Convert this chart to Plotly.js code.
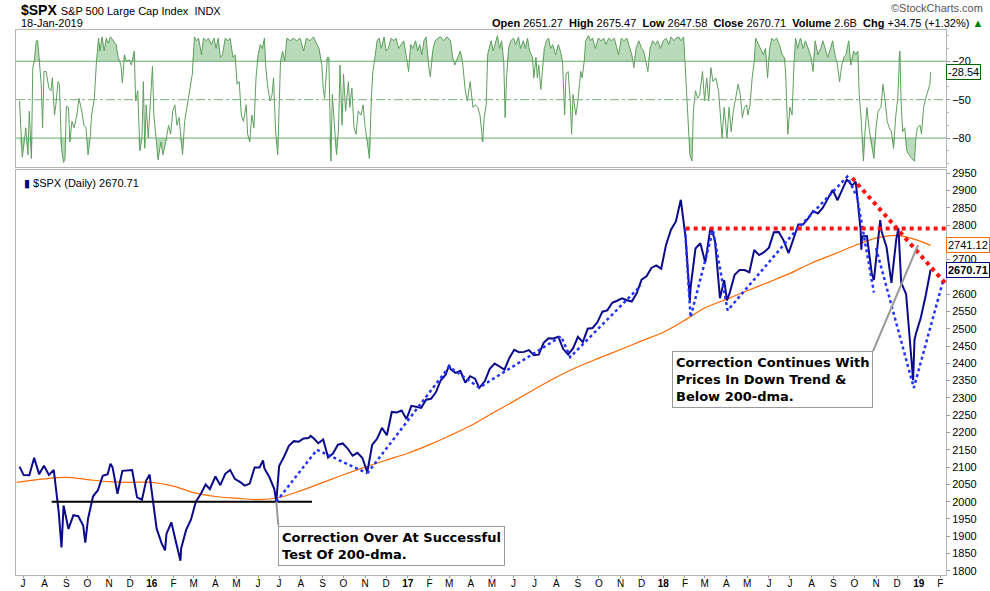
<!DOCTYPE html>
<html><head><meta charset="utf-8">
<script src="https://cdn.plot.ly/plotly-3.0.1.min.js"></script>
<style>body{margin:0;background:#fff}#chart{width:990px;height:591px}</style>
</head><body><div id="chart"></div>
<script>
// ---------- S&P 500 closes (weekly + key days) ----------
const priceDates = ['2015-06-26','2015-07-02','2015-07-10','2015-07-17','2015-07-24','2015-07-31','2015-08-07','2015-08-14','2015-08-21','2015-08-24','2015-08-25','2015-08-28','2015-09-04','2015-09-11','2015-09-18','2015-09-25','2015-09-28','2015-10-02','2015-10-09','2015-10-16','2015-10-23','2015-10-30','2015-11-03','2015-11-06','2015-11-13','2015-11-20','2015-11-27','2015-12-04','2015-12-11','2015-12-18','2015-12-24','2015-12-29','2015-12-31',
'2016-01-08','2016-01-15','2016-01-20','2016-01-22','2016-01-29','2016-02-05','2016-02-11','2016-02-12','2016-02-19','2016-02-26','2016-03-04','2016-03-11','2016-03-18','2016-03-24','2016-04-01','2016-04-08','2016-04-15','2016-04-22','2016-04-29','2016-05-06','2016-05-13','2016-05-20','2016-05-27','2016-06-03','2016-06-08','2016-06-10','2016-06-17','2016-06-24','2016-06-27','2016-07-01','2016-07-08','2016-07-15','2016-07-22','2016-07-29','2016-08-05','2016-08-12','2016-08-15','2016-08-19','2016-08-26','2016-09-02','2016-09-09','2016-09-16','2016-09-23','2016-09-30','2016-10-07','2016-10-14','2016-10-21','2016-10-28','2016-11-04','2016-11-11','2016-11-18','2016-11-25','2016-12-02','2016-12-09','2016-12-16','2016-12-23','2016-12-30',
'2017-01-06','2017-01-13','2017-01-20','2017-01-27','2017-02-03','2017-02-10','2017-02-17','2017-02-24','2017-03-01','2017-03-03','2017-03-10','2017-03-17','2017-03-24','2017-03-31','2017-04-07','2017-04-13','2017-04-21','2017-04-28','2017-05-05','2017-05-12','2017-05-19','2017-05-26','2017-06-02','2017-06-09','2017-06-16','2017-06-23','2017-06-30','2017-07-07','2017-07-14','2017-07-21','2017-07-28','2017-08-04','2017-08-11','2017-08-18','2017-08-25','2017-09-01','2017-09-08','2017-09-15','2017-09-22','2017-09-29','2017-10-06','2017-10-13','2017-10-20','2017-10-27','2017-11-03','2017-11-10','2017-11-17','2017-11-24','2017-12-01','2017-12-08','2017-12-15','2017-12-22','2017-12-29',
'2018-01-05','2018-01-12','2018-01-19','2018-01-26','2018-02-02','2018-02-08','2018-02-09','2018-02-16','2018-02-23','2018-03-02','2018-03-09','2018-03-12','2018-03-16','2018-03-23','2018-03-29','2018-04-02','2018-04-06','2018-04-13','2018-04-20','2018-04-27','2018-05-04','2018-05-11','2018-05-18','2018-05-25','2018-06-01','2018-06-08','2018-06-15','2018-06-22','2018-06-29','2018-07-06','2018-07-13','2018-07-20','2018-07-27','2018-08-03','2018-08-10','2018-08-17','2018-08-24','2018-08-31','2018-09-07','2018-09-14','2018-09-20','2018-09-21','2018-09-28','2018-10-03','2018-10-05','2018-10-10','2018-10-11','2018-10-12','2018-10-19','2018-10-26','2018-10-29','2018-11-02','2018-11-07','2018-11-09','2018-11-16','2018-11-23','2018-11-30','2018-12-03','2018-12-07','2018-12-14','2018-12-21','2018-12-24','2018-12-26','2018-12-28',
'2019-01-04','2019-01-11','2019-01-18'];
const priceClose = [2101.49,2076.78,2076.62,2126.64,2079.65,2103.84,2077.57,2091.54,1970.89,1893.21,1867.61,1988.87,1921.22,1961.05,1958.03,1931.34,1881.77,1951.36,2014.89,2033.11,2075.15,2079.36,2109.79,2099.20,2023.04,2089.17,2090.11,2091.69,2012.37,2005.55,2060.99,2078.36,2043.94,
1922.03,1880.33,1859.33,1906.90,1940.24,1880.05,1829.08,1864.78,1917.78,1948.05,1999.99,2022.19,2049.58,2035.94,2072.78,2047.60,2080.73,2091.58,2065.30,2057.14,2046.61,2052.32,2099.06,2099.13,2119.12,2096.07,2071.22,2037.41,2000.54,2102.95,2129.90,2161.74,2175.03,2173.60,2182.87,2184.05,2190.15,2183.87,2169.04,2179.98,2127.81,2139.16,2164.69,2168.27,2153.74,2132.98,2141.16,2126.41,2085.18,2164.45,2181.90,2213.35,2191.95,2259.53,2258.07,2263.79,2238.83,
2276.98,2274.64,2271.31,2294.69,2297.42,2316.10,2351.16,2367.34,2395.96,2383.12,2372.60,2378.25,2343.98,2362.72,2355.54,2328.95,2348.69,2384.20,2399.29,2390.90,2381.73,2415.82,2439.07,2431.77,2433.15,2438.30,2423.41,2425.18,2459.27,2472.54,2472.10,2476.83,2441.32,2425.55,2443.05,2476.55,2461.43,2500.23,2502.22,2519.36,2549.33,2553.17,2575.21,2581.07,2587.84,2582.30,2578.85,2602.42,2642.22,2651.50,2675.81,2683.34,2673.61,
2743.15,2786.24,2810.30,2872.87,2762.13,2581.00,2619.55,2732.22,2747.30,2691.25,2786.57,2783.02,2752.01,2588.26,2640.87,2581.88,2604.47,2656.30,2670.14,2669.91,2663.42,2727.72,2712.97,2721.33,2734.62,2779.03,2779.66,2754.88,2718.37,2759.82,2801.31,2801.83,2818.82,2840.35,2833.28,2850.13,2874.69,2901.52,2871.68,2904.98,2930.75,2929.67,2913.98,2925.51,2885.57,2785.68,2728.37,2767.13,2767.78,2658.69,2641.25,2723.06,2813.89,2781.01,2736.27,2632.56,2760.17,2790.37,2633.08,2599.95,2416.62,2351.10,2467.70,2485.74,
2531.94,2596.26,2670.71];

// ---------- 200-day moving average ----------
const dmaDates = ['2015-06-22','2015-08-01','2015-09-01','2015-10-01','2015-11-01','2015-12-01','2016-01-01','2016-02-01','2016-03-01','2016-04-01','2016-05-01','2016-06-01','2016-07-01','2016-08-01','2016-09-01','2016-10-01','2016-11-01','2016-12-01','2017-01-01','2017-02-01','2017-03-01','2017-04-01','2017-05-01','2017-06-01','2017-07-01','2017-08-01','2017-09-01','2017-10-01','2017-11-01','2017-12-01','2018-01-01','2018-02-01','2018-03-01','2018-04-01','2018-05-01','2018-06-01','2018-07-01','2018-08-01','2018-09-01','2018-10-01','2018-11-01','2018-12-01','2019-01-01','2019-01-18'];
const dmaValues = [2056,2066,2070,2064,2058,2056,2056,2045,2026,2015,2010,2006,2012,2032,2055,2078,2100,2120,2140,2165,2190,2220,2255,2290,2325,2360,2390,2415,2440,2465,2490,2525,2560,2585,2610,2635,2660,2690,2715,2740,2762,2770,2755,2741.12];

// ---------- Williams %R style oscillator (upper panel) ----------
const wrDates = ['2015-06-26','2015-06-30','2015-07-05','2015-07-08','2015-07-10','2015-07-13','2015-07-15','2015-07-17','2015-07-20','2015-07-22','2015-07-24','2015-07-27','2015-07-29','2015-07-31','2015-08-03','2015-08-07','2015-08-10','2015-08-12','2015-08-15','2015-08-17','2015-08-20','2015-08-22','2015-08-25','2015-08-28','2015-08-30','2015-09-01','2015-09-04','2015-09-06','2015-09-09','2015-09-12','2015-09-16','2015-09-19','2015-09-23','2015-09-26','2015-09-29','2015-10-02','2015-10-05','2015-10-07','2015-10-11','2015-10-14','2015-10-17','2015-10-19','2015-10-22','2015-10-25','2015-10-28','2015-10-31','2015-11-03','2015-11-07','2015-11-11','2015-11-14','2015-11-18','2015-11-20','2015-11-23','2015-11-26','2015-11-30','2015-12-03','2015-12-07','2015-12-09','2015-12-12','2015-12-15','2015-12-18','2015-12-20','2015-12-22','2015-12-24','2015-12-27','2015-12-31',
'2016-01-02','2016-01-04','2016-01-07','2016-01-10','2016-01-14','2016-01-17','2016-01-21','2016-01-25','2016-01-28','2016-01-31','2016-02-03','2016-02-06','2016-02-09','2016-02-12','2016-02-14','2016-02-17','2016-02-21','2016-02-24','2016-02-28','2016-03-02','2016-03-05','2016-03-08','2016-03-12','2016-03-15','2016-03-19','2016-03-22','2016-03-26','2016-03-30','2016-04-02','2016-04-05','2016-04-08','2016-04-11','2016-04-15','2016-04-19','2016-04-22','2016-04-26','2016-04-29','2016-05-02','2016-05-05','2016-05-08','2016-05-11','2016-05-15','2016-05-17','2016-05-20','2016-05-23','2016-05-26','2016-05-29','2016-06-01','2016-06-04','2016-06-07','2016-06-10','2016-06-12','2016-06-15','2016-06-18','2016-06-21','2016-06-23','2016-06-26','2016-06-29','2016-07-01','2016-07-03','2016-07-06','2016-07-09','2016-07-12','2016-07-17','2016-07-21','2016-07-26','2016-07-31','2016-08-05','2016-08-09','2016-08-14','2016-08-19','2016-08-24','2016-08-27','2016-08-31','2016-09-02','2016-09-04','2016-09-08','2016-09-10','2016-09-13','2016-09-15','2016-09-18','2016-09-21','2016-09-24','2016-09-26','2016-09-29','2016-10-01','2016-10-04','2016-10-08','2016-10-10','2016-10-13','2016-10-16','2016-10-19','2016-10-22','2016-10-26','2016-10-29','2016-11-01','2016-11-04','2016-11-07','2016-11-10','2016-11-12','2016-11-15','2016-11-18','2016-11-21','2016-11-24','2016-11-28','2016-12-01','2016-12-04','2016-12-08','2016-12-12','2016-12-15','2016-12-19','2016-12-22','2016-12-26','2016-12-30',
'2017-01-02','2017-01-05','2017-01-08','2017-01-12','2017-01-15','2017-01-18','2017-01-21','2017-01-24','2017-01-27','2017-01-31','2017-02-02','2017-02-06','2017-02-09','2017-02-13','2017-02-17','2017-02-21','2017-02-26','2017-03-03','2017-03-06','2017-03-09','2017-03-13','2017-03-17','2017-03-20','2017-03-24','2017-03-27','2017-03-31','2017-04-04','2017-04-07','2017-04-11','2017-04-14','2017-04-18','2017-04-20','2017-04-23','2017-04-25','2017-04-27','2017-04-30','2017-05-03','2017-05-07','2017-05-09','2017-05-12','2017-05-15','2017-05-18','2017-05-20','2017-05-22','2017-05-25','2017-05-28','2017-06-01','2017-06-04','2017-06-08','2017-06-11','2017-06-15','2017-06-18','2017-06-21','2017-06-24','2017-06-28','2017-06-30','2017-07-03','2017-07-05','2017-07-07','2017-07-10','2017-07-12','2017-07-15','2017-07-18','2017-07-21','2017-07-24','2017-07-27','2017-07-31','2017-08-04','2017-08-07','2017-08-10','2017-08-13','2017-08-15','2017-08-18','2017-08-21','2017-08-23','2017-08-25','2017-08-29','2017-09-01','2017-09-05','2017-09-07','2017-09-10','2017-09-12','2017-09-16','2017-09-19','2017-09-22','2017-09-26','2017-09-30','2017-10-04','2017-10-08','2017-10-11','2017-10-15','2017-10-19','2017-10-23','2017-10-27','2017-10-29','2017-11-02','2017-11-06','2017-11-10','2017-11-14','2017-11-17','2017-11-20','2017-11-23','2017-11-27','2017-12-01','2017-12-04','2017-12-07','2017-12-10','2017-12-13','2017-12-17','2017-12-21','2017-12-24','2017-12-28',
'2018-01-01','2018-01-05','2018-01-09','2018-01-12','2018-01-16','2018-01-19','2018-01-23','2018-01-26','2018-01-30','2018-02-01','2018-02-04','2018-02-06','2018-02-08','2018-02-11','2018-02-13','2018-02-16','2018-02-19','2018-02-22','2018-02-26','2018-03-01','2018-03-04','2018-03-07','2018-03-10','2018-03-13','2018-03-17','2018-03-21','2018-03-24','2018-03-26','2018-03-29','2018-04-02','2018-04-05','2018-04-08','2018-04-11','2018-04-14','2018-04-18','2018-04-21','2018-04-24','2018-04-27','2018-04-30','2018-05-02','2018-05-05','2018-05-08','2018-05-11','2018-05-13','2018-05-17','2018-05-20','2018-05-24','2018-05-27','2018-05-30','2018-06-02','2018-06-05','2018-06-08','2018-06-12','2018-06-16','2018-06-20','2018-06-23','2018-06-25','2018-06-26','2018-06-28','2018-07-01','2018-07-04','2018-07-07','2018-07-09','2018-07-12','2018-07-16','2018-07-20','2018-07-23','2018-07-27','2018-07-31','2018-08-03','2018-08-06','2018-08-10','2018-08-14','2018-08-17','2018-08-20','2018-08-24','2018-08-28','2018-08-31','2018-09-04','2018-09-06','2018-09-10','2018-09-13','2018-09-16','2018-09-19','2018-09-23','2018-09-26','2018-09-30','2018-10-03','2018-10-06','2018-10-08','2018-10-11','2018-10-14','2018-10-16','2018-10-19','2018-10-22','2018-10-26','2018-10-29','2018-11-01','2018-11-04','2018-11-08','2018-11-11','2018-11-14','2018-11-17','2018-11-20','2018-11-23','2018-11-26','2018-11-29','2018-12-02','2018-12-05','2018-12-07','2018-12-09','2018-12-12','2018-12-15','2018-12-18','2018-12-22','2018-12-26','2018-12-28','2018-12-30',
'2019-01-03','2019-01-05','2019-01-08','2019-01-11','2019-01-14','2019-01-17','2019-01-18'];
const wrValues = [-51,-95,-72,-93,-59,-96,-25,-20,-4,-4,-17,-38,-72,-28,-28,-41,-43,-33,-62,-54,-36,-38,-88,-99,-96,-55,-56,-83,-67,-72,-62,-49,-59,-70,-72,-93,-80,-62,-49,-20,-2,-12,-1,-12,-2,-6,-1,-4,-7,-17,-23,-37,-15,-20,-19,-23,-12,-51,-43,-90,-80,-36,-88,-54,-80,-43,
-24,-62,-80,-97,-83,-93,-83,-70,-77,-59,-54,-70,-64,-85,-93,-67,-54,-46,-30,-1,-4,-2,-15,-2,-4,-2,-7,-2,-10,-2,-17,-15,-2,-4,-2,-17,-15,-38,-36,-62,-67,-54,-77,-83,-62,-72,-33,-15,-7,-10,-2,-25,-41,-51,-46,-33,-75,-93,-46,-20,-12,-20,-2,-4,-2,-4,-2,-12,-2,-4,-1,-7,-10,-23,-41,-49,-17,-17,-98,-46,-72,-93,-72,-23,-70,-30,-59,-36,-56,-41,-72,-77,-59,-62,-54,-72,-83,-96,-46,-28,-17,-4,-2,-10,-1,-12,-10,-2,-4,-2,-10,-7,-4,-17,
-28,-7,-10,-4,-12,-7,-15,-4,-1,-25,-32,-10,-4,-2,-1,-4,-1,-4,-17,-23,-17,-12,-20,-43,-51,-36,-56,-54,-56,-62,-83,-64,-54,-15,-10,-4,-12,-4,0,-10,-4,-20,-64,-33,-10,-4,-2,-7,-1,-10,-4,-10,-2,-12,-17,-33,-17,-33,-23,-42,-28,-10,-4,-2,-10,-7,-15,-7,-12,-20,-62,-30,-28,-51,-77,-46,-62,-51,-28,-33,-20,-4,0,-4,-2,-10,-2,-4,-2,-7,-2,-4,-2,-10,-15,-2,-4,-2,-10,-15,-25,-10,-4,-10,-12,-20,-28,-10,-4,-7,-4,-10,
-4,-2,-7,-1,-4,-2,-1,-4,-1,-20,-49,-72,-93,-98,-59,-43,-49,-46,-28,-51,-33,-51,-25,-36,-33,-43,-62,-80,-56,-80,-56,-75,-59,-51,-38,-46,-64,-56,-54,-62,-54,-33,-20,-2,-7,-10,-15,-10,-33,-10,-2,-4,-2,-7,-15,-17,-30,-49,-77,-56,-62,-20,-2,-10,-2,-10,-4,-10,-17,-28,-4,-15,-10,-4,-10,-17,-10,-4,-17,-20,-36,-23,-17,-15,-4,-23,-12,-15,-12,-46,-67,-98,-77,-56,-72,-88,-96,-72,-59,-56,-38,-51,-67,-72,-75,-88,-64,-49,-12,-54,-75,-72,-90,-93,-96,-98,-80,-72,
-70,-77,-56,-49,-43,-38,-28.54];

// ---------- analyst trend lines ----------
const blueTrendA = {d:['2016-06-27','2016-08-24','2016-11-04'], v:[2000,2150,2082]};
const blueTrendB = {d:['2016-11-04','2017-03-01','2017-04-13','2017-08-08','2017-08-21','2017-11-30'], v:[2082,2390,2330,2478,2418,2625]};
const blueTrendC = {d:['2018-02-01','2018-02-09','2018-03-13','2018-04-03','2018-07-10','2018-09-21','2018-10-05','2018-10-29'], v:[2790,2533,2785,2553,2785,2940,2880,2605]};
const blueTrendD = {d:['2018-11-01','2018-12-25','2019-02-05'], v:[2733,2329,2640]};
const redFlat = {d:['2018-02-02','2019-02-09'], v:[2790,2790]};
const redDown = {d:['2018-09-28','2019-02-09'], v:[2936,2629]};
const blackSupport = {d:['2015-08-11','2016-08-17'], v:[2000,2000]};

// ---------- axis tick labels ----------
const xTickText = ['J','A','S','O','N','D','<b>16</b>','F','M','A','M','J','J','A','S','O','N','D','<b>17</b>','F','M','A','M','J','J','A','S','O','N','D','<b>18</b>','F','M','A','M','J','J','A','S','O','N','D','<b>19</b>','F'];
const xTickVals = xTickText.map((t,i)=>{const m=6+i;const y=2015+Math.floor(m/12);const mm=(m%12)+1;return y+'-'+String(mm).padStart(2,'0')+'-01';});
const yTickVals = [1800,1850,1900,1950,2000,2050,2100,2150,2200,2250,2300,2350,2400,2450,2500,2550,2600,2700,2800,2850,2900,2950];

const FONT = 'Arial, "Liberation Sans", sans-serif';
const BOXFONT = '"DejaVu Sans", Verdana, sans-serif';
const upClip = wrValues.map(v=>Math.max(v,-20));
const loClip = wrValues.map(v=>Math.min(v,-80));
const GREEN = '#5e9e5e';

const traces = [
  {x:wrDates, y:wrDates.map(()=>-20), xaxis:'x2', yaxis:'y2', mode:'lines', line:{width:0}, hoverinfo:'skip'},
  {x:wrDates, y:upClip, xaxis:'x2', yaxis:'y2', mode:'lines', line:{width:0}, fill:'tonexty', fillcolor:'rgba(130,190,130,0.55)', hoverinfo:'skip'},
  {x:wrDates, y:wrDates.map(()=>-80), xaxis:'x2', yaxis:'y2', mode:'lines', line:{width:0}, hoverinfo:'skip'},
  {x:wrDates, y:loClip, xaxis:'x2', yaxis:'y2', mode:'lines', line:{width:0}, fill:'tonexty', fillcolor:'rgba(130,190,130,0.55)', hoverinfo:'skip'},
  {x:wrDates, y:wrValues, xaxis:'x2', yaxis:'y2', mode:'lines', line:{color:GREEN, width:1}},
  {x:dmaDates, y:dmaValues, mode:'lines', line:{color:'#ff6a00', width:1.2, shape:'spline'}},
  {x:priceDates, y:priceClose, mode:'lines', line:{color:'#0a0a8a', width:2}},
  {x:blackSupport.d, y:blackSupport.v, mode:'lines', line:{color:'#000', width:2}},
];
[blueTrendA, blueTrendB, blueTrendC, blueTrendD].forEach(t=>traces.push({x:t.d, y:t.v, mode:'lines', line:{color:'#2233ff', width:2.5, dash:'dot'}}));
[redFlat, redDown].forEach(t=>traces.push({x:t.d, y:t.v, mode:'lines', line:{color:'#ff1010', width:4, dash:'dot'}}));

const axisLine = '#b4b4b4';
const layout = {
  width:990, height:591, margin:{l:16, r:44, t:30, b:16},
  paper_bgcolor:'#fff', plot_bgcolor:'#fff', showlegend:false,
  font:{family:FONT, size:11, color:'#000'},
  xaxis:{type:'date', range:['2015-06-21','2019-02-09'], anchor:'y', domain:[0,1],
    tickvals:xTickVals, ticktext:xTickText, tickfont:{size:10, family:FONT}, ticks:'outside', ticklen:2, tickcolor:'#999', ticklabelstandoff:-3,
    showgrid:false, zeroline:false, showline:true, linecolor:axisLine, mirror:true},
  xaxis2:{type:'date', matches:'x', anchor:'y2', showticklabels:false, showgrid:false, zeroline:false, showline:true, linecolor:axisLine, mirror:true},
  yaxis:{domain:[0,0.7431], range:[1788,2959], side:'right', tickvals:yTickVals, ticks:'outside', ticklen:3, tickcolor:'#999',
    minor:{dtick:50, ticklen:3, tickcolor:'#999', ticks:'outside'},
    tickfont:{size:11, family:FONT}, showgrid:false, zeroline:false, showline:true, linecolor:axisLine, mirror:true},
  yaxis2:{domain:[0.7486,1], range:[-102.6,4.4], side:'right', tickvals:[-20,-50,-80], ticks:'outside', ticklen:3, tickcolor:'#999',
    minor:{dtick:10, ticklen:2, tickcolor:'#bbb', ticks:'outside'},
    tickfont:{size:11, family:FONT}, showgrid:false, zeroline:false, showline:true, linecolor:axisLine, mirror:true},
  shapes:[
    {type:'line', xref:'paper', x0:0, x1:1, yref:'y2', y0:-20, y1:-20, line:{color:'#6aa86a', width:1}},
    {type:'line', xref:'paper', x0:0, x1:1, yref:'y2', y0:-80, y1:-80, line:{color:'#6aa86a', width:1}},
    {type:'line', xref:'paper', x0:0, x1:1, yref:'y2', y0:-50, y1:-50, line:{color:'#7ab07a', width:1, dash:'dashdot'}},
  ],
  annotations:[
    {xref:'paper', yref:'paper', x:0.003, y:1.036, xanchor:'left', yanchor:'middle', showarrow:false,
     text:'<b>$SPX</b> <span style="font-size:11px">S&P 500 Large Cap Index  INDX</span>', font:{size:14, family:FONT}},
    {xref:'paper', yref:'paper', x:0.003, y:1.013, xanchor:'left', yanchor:'middle', showarrow:false,
     text:'18-Jan-2019', font:{size:11, family:FONT}},
    {xref:'paper', yref:'paper', x:1.042, y:1.013, xanchor:'right', yanchor:'middle', showarrow:false,
     text:'<b>Open</b> 2651.27  <b>High</b> 2675.47  <b>Low</b> 2647.58  <b>Close</b> 2670.71  <b>Volume</b> 2.6B  <b>Chg</b> +34.75 (+1.32%) <span style="color:#008000">▲</span>', font:{size:11, family:FONT}},
    {xref:'paper', yref:'paper', x:1.042, y:1.04, xanchor:'right', yanchor:'middle', showarrow:false,
     text:'©StockCharts.com', font:{size:11, family:FONT, color:'#555'}},
    {xref:'paper', yref:'paper', x:0.006, y:0.734, xanchor:'left', yanchor:'top', showarrow:false,
     text:'<span style="color:#000080">▮</span> $SPX (Daily) 2670.71', font:{size:11, family:FONT}},
    // value tags
    {xref:'paper', yref:'y2', x:1, y:-28.54, xanchor:'left', xshift:0, showarrow:false, text:'-28.54', font:{size:11, family:FONT},
     bgcolor:'#fff', bordercolor:'#006400', borderwidth:1, borderpad:1},
    {xref:'paper', yref:'y', x:1, y:2741.12, xanchor:'left', xshift:0, showarrow:false, text:'2741.12', font:{size:11, family:FONT},
     bgcolor:'#fff', bordercolor:'#ff6a00', borderwidth:1, borderpad:1},
    {xref:'paper', yref:'y', x:1, y:2670.71, xanchor:'left', xshift:0, showarrow:false, text:'<b>2670.71</b>', font:{size:11, family:FONT},
     bgcolor:'#fff', bordercolor:'#000080', borderwidth:1, borderpad:1},
    // callouts
    {xref:'x', yref:'y', x:'2016-06-27', y:2000, ax:2, ay:24, xanchor:'left', yanchor:'top', align:'left', showarrow:true,
     arrowhead:0, arrowwidth:2, arrowcolor:'#999',
     text:'<b>Correction Over At Successful<br>Test Of 200-dma.</b>', font:{size:13, family:BOXFONT},
     bgcolor:'#fff', bordercolor:'#999', borderwidth:1, borderpad:3},
    {xref:'x', yref:'y', x:'2018-12-31', y:2742, ax:-45, ay:106, xanchor:'right', yanchor:'top', align:'left', showarrow:true,
     arrowhead:0, arrowwidth:2, arrowcolor:'#999',
     text:'<b>Correction Continues With<br>Prices In Down Trend &<br>Below 200-dma.</b>', font:{size:13, family:BOXFONT},
     bgcolor:'#fff', bordercolor:'#999', borderwidth:1, borderpad:3},
  ]
};
Plotly.newPlot('chart', traces, layout, {staticPlot:true});
</script></body></html>
